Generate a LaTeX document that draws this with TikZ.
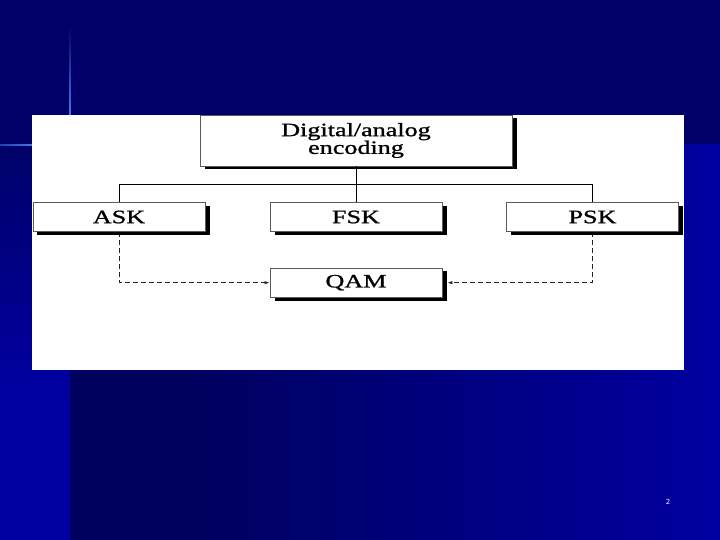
\documentclass[tikz,border=0pt]{standalone}
\usepackage{fontspec}
\setmainfont{Liberation Serif}
\setsansfont{DejaVu Sans}
\newfontfamily\boxfont[FakeBold=0.9]{Liberation Serif}
\usepackage{graphicx}
\usetikzlibrary{arrows.meta,shadows}

\definecolor{slidenavy}{RGB}{0,0,104}
\definecolor{slidedeep}{RGB}{0,0,94}
\definecolor{slideblue}{RGB}{0,0,160}
\definecolor{slideglow}{RGB}{70,120,235}
\definecolor{boxline}{RGB}{90,90,90}

\newcommand{\widetext}[1]{\scalebox{1.38}[1]{#1}}

\tikzset{
	blockbox/.style={shape=rectangle, draw=boxline, line width=0.8bp, fill=white, inner sep=0pt,
		minimum width=172bp, minimum height=29.5bp, font=\boxfont\fontsize{19}{15}\selectfont, align=center,
		drop shadow={shadow xshift=4.5bp, shadow yshift=-3.5bp, opacity=1, fill=black}},
	wire/.style={line width=0.8bp, black},
	dashwire/.style={line width=0.8bp, black!85, dash pattern=on 5bp off 3bp, -{Latex[length=5bp,width=3.5bp]}}
}

\begin{document}
\begin{tikzpicture}[x=1bp, y=-1bp]
		\useasboundingbox (0,0) rectangle (720,540);
		% Background of the slide:
		\fill[slidenavy] (0,0) rectangle (720,540);
		\shade[top color=slidenavy, bottom color=slideblue] (0,145) rectangle (70,390);
		\fill[slideblue] (0,390) rectangle (70,540);
		\fill[slidedeep] (70,145) rectangle (190,540);
		\shade[left color=slidedeep, right color=slideblue] (190,145) rectangle (720,540);
		\shade[top color=slidenavy, bottom color=slideglow] (69.2,25) rectangle (70.8,115);
		\shade[left color=slideglow!50!slidenavy, right color=slideglow] (0,144.2) rectangle (32,145.8);
		\fill[white] (32,115) rectangle (684,369.5);
		% Paths, nodes and wires:
		\coordinate (bus) at (356,184.6);
		\node[blockbox, minimum width=312bp, minimum height=51bp] (encoding) at (356,140.5){\widetext{Digital/analog}\\[-0.5bp]\widetext{encoding}};
		\node[blockbox] (fsk) at (356,217){\widetext{FSK}};
		\node[blockbox] (qam) at (356,282.7){\widetext{QAM}};
		\coordinate (qamside) at ([xshift=5bp]qam.east);
		\draw[wire] (encoding.south) -- (fsk.north);
		\draw[wire] (119.4,202.5) |- (bus) -| (592.3,202.5);
		\draw[dashwire] (119.4,232) |- (qam.west);
		\draw[dashwire] (592.3,232) |- (qamside);
		\node[blockbox] (ask) at (119,217){\widetext{ASK}};
		\node[blockbox] (psk) at (592.5,217){\widetext{PSK}};
		\node[text=white, font=\sffamily\fontsize{7}{8}\selectfont] (pagenum) at (668,502){2};
	\end{tikzpicture}
\end{document}
